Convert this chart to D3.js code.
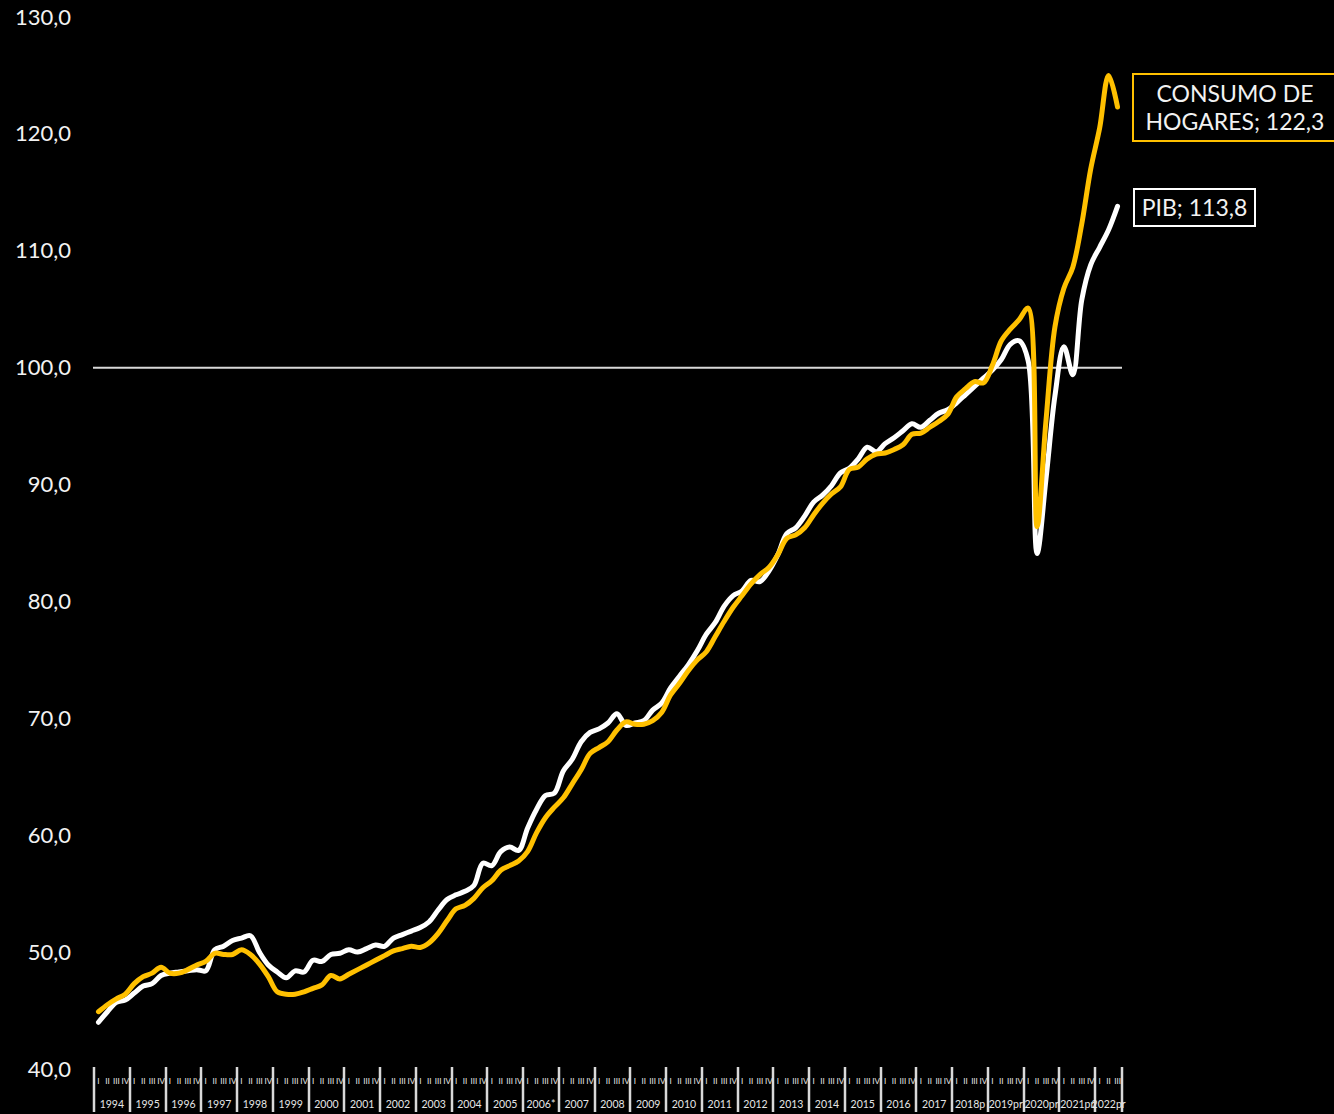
<!DOCTYPE html>
<html>
<head>
<meta charset="utf-8">
<script src="https://cdn.jsdelivr.net/npm/d3@7"></script>
<style>
  html, body { margin: 0; padding: 0; background: #000; }
  svg { display: block; }
  text { font-family: Lato, "Open Sans", sans-serif; }
</style>
</head>
<body>
<svg id="chart" width="1334" height="1114"></svg>
<script>
// ---- DATA ----
const years = ["1994","1995","1996","1997","1998","1999","2000","2001","2002","2003","2004","2005","2006*","2007","2008","2009","2010","2011","2012","2013","2014","2015","2016","2017","2018p","2019pr","2020pr","2021pr","2022pr"];
const quartersPerYear = [4,4,4,4,4,4,4,4,4,4,4,4,4,4,4,4,4,4,4,4,4,4,4,4,4,4,4,4,3];
const quarterLabels = ["I","II","III","IV"];
const yTicks = [40,50,60,70,80,90,100,110,120,130];

const pib = [
  44.0,44.9,45.7,45.9, 46.5,47.1,47.3,48.0, 48.2,48.3,48.4,48.5, 48.4,50.2,50.5,51.0,
  51.2,51.4,50.0,48.9, 48.3,47.8,48.4,48.3, 49.3,49.2,49.8,49.9, 50.2,50.0,50.3,50.6,
  50.5,51.2,51.5,51.8, 52.1,52.6,53.6,54.5, 54.9,55.2,55.7,57.6, 57.4,58.6,59.0,58.7,
  60.6,62.2,63.4,63.6, 65.5,66.5,68.0,68.8, 69.1,69.6,70.4,69.4, 69.6,69.8,70.7,71.3,
  72.6,73.6,74.6,75.8, 77.2,78.2,79.6,80.5, 80.9,81.8,81.7,82.6, 84.0,85.8,86.3,87.3,
  88.5,89.1,89.9,91.0, 91.4,92.2,93.2,92.8, 93.5,94.0,94.6,95.2, 94.9,95.5,96.1,96.4,
  97.0,97.7,98.4,99.1, 99.8,100.7,102.0,102.3, 100.6,84.1,90.5,97.6, 101.8,99.4,105.8,108.8,
  110.3,111.8,113.8
];
const consumo = [
  44.9,45.5,46.0,46.4, 47.3,47.9,48.2,48.7, 48.2,48.2,48.5,48.9, 49.2,49.9,49.8,49.8,
  50.2,49.8,49.0,47.9, 46.6,46.4,46.4,46.6, 46.9,47.2,48.0,47.7, 48.1,48.5,48.9,49.3,
  49.7,50.1,50.3,50.5, 50.4,50.8,51.6,52.7, 53.7,54.0,54.6,55.5, 56.1,57.0,57.4,57.8,
  58.6,60.2,61.5,62.4, 63.2,64.4,65.6,67.0, 67.5,68.0,69.0,69.7, 69.5,69.5,69.8,70.5,
  72.0,73.0,74.1,75.0, 75.7,77.0,78.3,79.5, 80.5,81.5,82.3,82.9, 84.0,85.4,85.7,86.3,
  87.4,88.4,89.2,89.8, 91.3,91.5,92.2,92.6, 92.7,93.0,93.4,94.3, 94.4,94.9,95.4,96.0,
  97.5,98.2,98.8,98.7, 100.2,102.3,103.3,104.1, 105.1,86.4,95.5,103.5, 106.8,108.6,112.3,117.0,
  120.5,125.0,122.3
];

// ---- BUILD CATEGORIES ----
const cats = [];
years.forEach((y, yi) => {
  for (let q = 0; q < quartersPerYear[yi]; q++) cats.push({year: y, yi, q: quarterLabels[q], key: y + "-" + quarterLabels[q]});
});

const svg = d3.select("#chart");
const W = 1334, H = 1114;
svg.append("rect").attr("width", W).attr("height", H).attr("fill", "#000");

const x = d3.scaleBand().domain(cats.map(d => d.key)).range([94, 1122]).padding(0);
const y = d3.scaleLinear().domain([40, 130]).range([1069, 17]);
const cx = i => x(cats[i].key) + x.bandwidth() / 2;

const locale = d3.formatLocale({decimal: ",", thousands: ".", grouping: [3], currency: ["$", ""]});
const fmt = locale.format(".1f");

// Y axis labels
const yAxis = d3.axisLeft(y).tickValues(yTicks).tickFormat(fmt).tickSize(0).tickPadding(0);
const gy = svg.append("g").attr("transform", "translate(71,0)").call(yAxis);
gy.select(".domain").remove();
gy.selectAll("text").attr("fill", "#f2f2f2").attr("font-size", 22).style("font-family", "Lato, sans-serif");

// 100 reference line
svg.append("line")
  .attr("x1", 93).attr("x2", 1122)
  .attr("y1", y(100)).attr("y2", y(100))
  .attr("stroke", "#d9d9d9").attr("stroke-width", 2);

// X axis (two-level)
const gx = svg.append("g");
const yearStarts = [];
let idx = 0;
years.forEach((yr, yi) => {
  const start = x(cats[idx].key);
  const endIdx = idx + quartersPerYear[yi] - 1;
  const end = x(cats[endIdx].key) + x.bandwidth();
  yearStarts.push({yr, start, end});
  idx = endIdx + 1;
});
const seps = yearStarts.map(d => d.start).concat([yearStarts[yearStarts.length - 1].end]);
gx.selectAll("line.sep").data(seps).join("line")
  .attr("class", "sep")
  .attr("x1", d => Math.round(d)).attr("x2", d => Math.round(d))
  .attr("y1", 1067).attr("y2", 1112)
  .attr("stroke", "#d9d9d9").attr("stroke-width", 2.5);

gx.selectAll("text.q").data(cats).join("text")
  .attr("class", "q")
  .attr("x", d => x(d.key) + x.bandwidth() / 2)
  .attr("y", 1084)
  .attr("text-anchor", "middle")
  .attr("font-size", 8)
  .attr("fill", "#e6e6e6")
  .text(d => d.q);

gx.selectAll("text.yr").data(yearStarts).join("text")
  .attr("class", "yr")
  .attr("x", d => (d.start + d.end) / 2)
  .attr("y", 1108)
  .attr("text-anchor", "middle")
  .attr("font-size", 10.5)
  .attr("fill", "#e6e6e6")
  .text(d => d.yr);

// Lines
const line = d3.line().x((d, i) => cx(i)).y(d => y(d)).curve(d3.curveCatmullRom.alpha(0.5));
svg.append("path").datum(pib).attr("d", line)
  .attr("fill", "none").attr("stroke", "#ffffff").attr("stroke-width", 5)
  .attr("stroke-linejoin", "round").attr("stroke-linecap", "round");
svg.append("path").datum(consumo).attr("d", line)
  .attr("fill", "none").attr("stroke", "#FFC000").attr("stroke-width", 5)
  .attr("stroke-linejoin", "round").attr("stroke-linecap", "round");

// Data labels
const gl1 = svg.append("g");
gl1.append("rect").attr("x", 1133).attr("y", 74).attr("width", 210).attr("height", 67)
  .attr("fill", "#000").attr("stroke", "#FFC000").attr("stroke-width", 2);
gl1.append("text").attr("x", 1235).attr("y", 102).attr("text-anchor", "middle")
  .attr("font-size", 23).attr("fill", "#f2f2f2").text("CONSUMO DE");
gl1.append("text").attr("x", 1235).attr("y", 130).attr("text-anchor", "middle")
  .attr("font-size", 23).attr("fill", "#f2f2f2").text("HOGARES; " + fmt(consumo[consumo.length - 1]));

const gl2 = svg.append("g");
gl2.append("rect").attr("x", 1134).attr("y", 189).attr("width", 121).attr("height", 37)
  .attr("fill", "#000").attr("stroke", "#ffffff").attr("stroke-width", 2);
gl2.append("text").attr("x", 1194.5).attr("y", 216).attr("text-anchor", "middle")
  .attr("font-size", 23).attr("fill", "#f2f2f2").text("PIB; " + fmt(pib[pib.length - 1]));
</script>
</body>
</html>
